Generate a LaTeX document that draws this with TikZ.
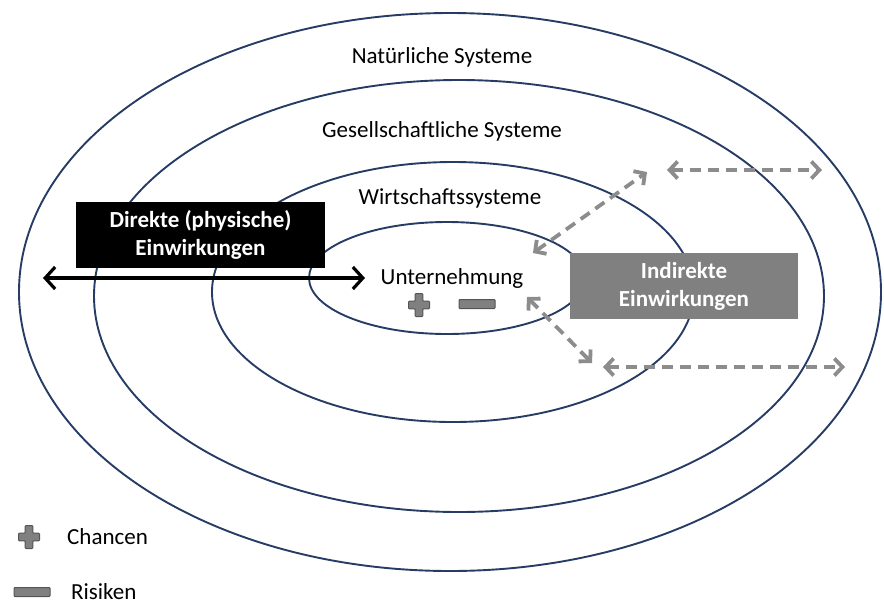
\documentclass[tikz,border=0pt]{standalone}
\usepackage{fontspec}
\setmainfont{Carlito}
\usetikzlibrary{arrows.meta}
\definecolor{navy}{RGB}{38, 60, 100}
\definecolor{stone}{RGB}{128, 128, 128}
\definecolor{ash}{RGB}{140, 140, 140}
\definecolor{slate}{RGB}{85, 85, 85}

% Plus- und Minuszeichen (Mitte x, Mitte y)
\newcommand{\pluszeichen}[2]{%
  \filldraw[color=slate, fill=stone, line width=1pt, rounded corners=0.8pt]
    (#1-3.8,#2-11.5) -- (#1+3.8,#2-11.5) -- (#1+3.8,#2-3.8) -- (#1+10.5,#2-3.8)
    -- (#1+10.5,#2+3.8) -- (#1+3.8,#2+3.8) -- (#1+3.8,#2+11.5) -- (#1-3.8,#2+11.5)
    -- (#1-3.8,#2+3.8) -- (#1-10.5,#2+3.8) -- (#1-10.5,#2-3.8) -- (#1-3.8,#2-3.8) -- cycle;}
\newcommand{\minuszeichen}[2]{%
  \filldraw[color=slate, fill=stone, line width=1pt, rounded corners=0.8pt]
    (#1-18,#2-4.5) rectangle (#1+18,#2+4.5);}

\begin{document}
\begin{tikzpicture}[x=1pt, y=-1pt,
    ring/.style={navy, line width=1.9pt},
    label/.style={font=\fontsize{23}{26}\selectfont, inner sep=1pt},
    wirkbox/.style={font=\bfseries\fontsize{23}{28}\selectfont, text=white, align=center, minimum width=#1, minimum height=66pt, inner sep=0pt},
    direktpfeil/.style={line width=3.2pt, {Straight Barb[length=10pt, width=22pt]}-{Straight Barb[length=10pt, width=22pt]}},
    indirektpfeil/.style={ash, line width=3.8pt, dash pattern=on 11pt off 7pt, {Straight Barb[length=8pt, width=17pt]}-{Straight Barb[length=8pt, width=17pt]}}]
  \useasboundingbox (0,0) rectangle (884,606);
  % Systemringe
  \draw[ring] (450,292) ellipse [x radius=431, y radius=279];
  \draw[ring] (459,296) ellipse [x radius=365, y radius=216];
  \draw[ring] (453,292) ellipse [x radius=241, y radius=130];
  \draw[ring] (447,278) ellipse [x radius=138, y radius=56];
  % Beschriftungen
  \node[label] (natur)  at (442,57)  {Natürliche Systeme};
  \node[label] (gesell) at (442,131) {Gesellschaftliche Systeme};
  \node[label] (wirt)   at (450,198) {Wirtschaftssysteme};
  \node[label] (unter)  at (452,278) {Unternehmung};
  \pluszeichen{419}{305}
  \minuszeichen{477}{304}
  % Direkte Einwirkungen
  \node[wirkbox=249pt, fill=black] (direkt) at (200.5,234.5) {Direkte (physische)\\Einwirkungen};
  \coordinate (dlinks)  at (43,278);
  \coordinate (drechts) at (365,278);
  \draw[direktpfeil] (dlinks) -- (drechts);
  % Indirekte Einwirkungen
  \node[wirkbox=228pt, fill=stone] (indirekt) at (684,286) {Indirekte\\Einwirkungen};
  \coordinate (i1a) at (533,253);  \coordinate (i1b) at (647,172);
  \coordinate (i2a) at (667,170);  \coordinate (i2b) at (822,170);
  \coordinate (i3a) at (527,297);  \coordinate (i3b) at (592,363);
  \coordinate (i4a) at (603,367);  \coordinate (i4b) at (845,367);
  \draw[indirektpfeil] (i1a) -- (i1b);
  \draw[indirektpfeil] (i2a) -- (i2b);
  \draw[indirektpfeil] (i3a) -- (i3b);
  \draw[indirektpfeil] (i4a) -- (i4b);
  % Legende
  \pluszeichen{29}{537}
  \minuszeichen{32}{592}
  \node[label, anchor=west] (chancen) at (66,537) {Chancen};
  \node[label, anchor=west] (risiken) at (70,592) {Risiken};
\end{tikzpicture}
\end{document}
